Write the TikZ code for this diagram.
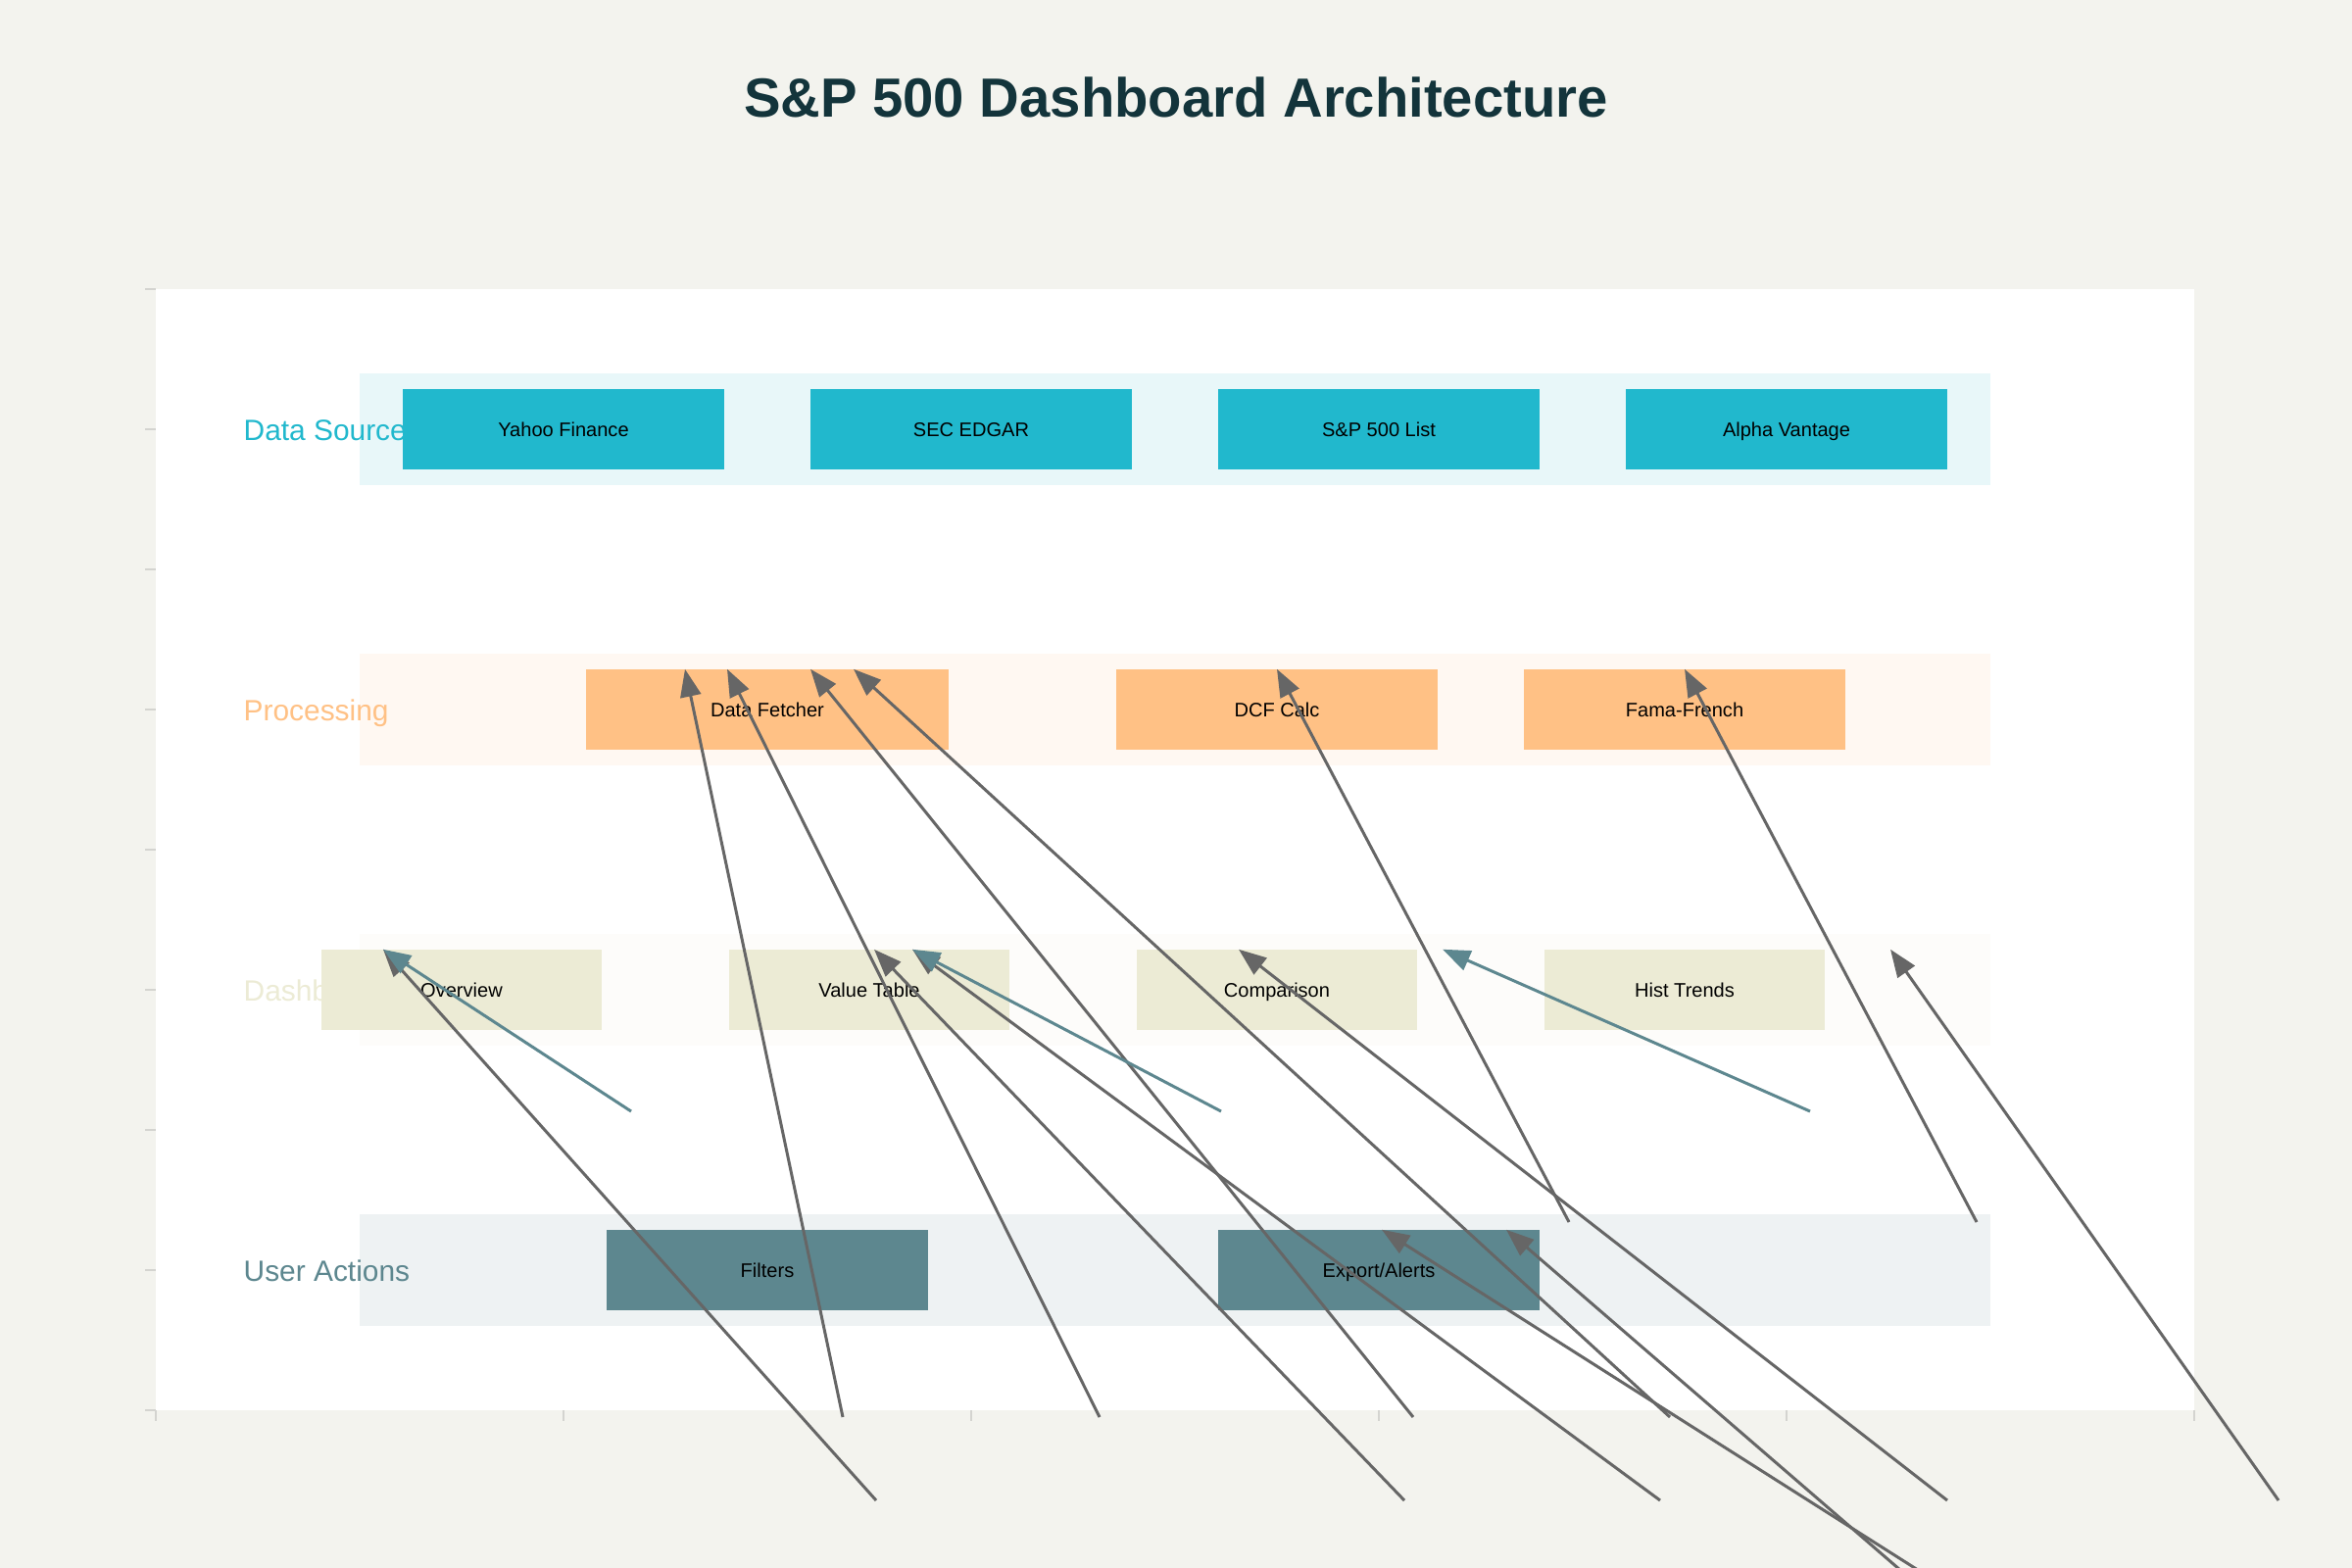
\documentclass[tikz,border=0pt]{standalone}
\usepackage{fontspec}
\setmainfont{Liberation Sans}
\usetikzlibrary{arrows.meta,calc}
\definecolor{paper}{HTML}{F3F3EE}
\definecolor{titlec}{HTML}{13343B}
\definecolor{srcc}{HTML}{21B8CD}
\definecolor{procc}{HTML}{FFC185}
\definecolor{dashc}{HTML}{ECEBD5}
\definecolor{userc}{HTML}{5D878F}
\definecolor{arrgray}{HTML}{666666}
\definecolor{tickc}{HTML}{D4D4D0}
\tikzset{
  band/.style={fill=#1, fill opacity=0.1, draw=none},
  lanelabel/.style={anchor=base west, inner sep=0pt, font=\fontsize{8.5pt}{10pt}\selectfont},
  boxbase/.style={draw=none, inner sep=0pt, minimum height=0.81cm, text height=4.1pt, text depth=0pt, font=\fontsize{5.7pt}{7pt}\selectfont, text=black},
  srcbox/.style={boxbase, fill=srcc, minimum width=3.27cm},
  procbox/.style={boxbase, fill=procc, minimum width=#1},
  dashbox/.style={boxbase, fill=dashc, minimum width=2.86cm},
  userbox/.style={boxbase, fill=userc, minimum width=3.27cm},
  grayarrow/.style={draw=arrgray, line width=0.85pt, -{Triangle[length=8pt,width=6pt]}},
  tealarrow/.style={draw=userc, line width=0.85pt, -{Triangle[length=8pt,width=6pt]}},
  tickmark/.style={draw=tickc, line width=0.45pt}
}
\begin{document}
\begin{tikzpicture}[x=0.01cm,y=-0.01cm]
\useasboundingbox (0,0) rectangle (2400,1600);
\clip (0,0) rectangle (2400,1600);
\fill[paper] (0,0) rectangle (2400,1600);
\fill[white] (159,295) rectangle (2239,1439);
% ticks
\foreach \k in {0,...,8} \draw[tickmark] (148,{295+143*\k}) -- (159,{295+143*\k});
\foreach \k in {0,...,5} \draw[tickmark] ({159+416*\k},1439) -- ({159+416*\k},1450);
% title
\node[text=titlec, font=\fontsize{16pt}{19pt}\selectfont\bfseries] (title) at (1200,99) {S\&P 500 Dashboard Architecture};
% bands
\fill[band=srcc] (367,381) rectangle (2031,495);
\fill[band=procc] (367,667) rectangle (2031,781);
\fill[band=dashc] (367,953) rectangle (2031,1067);
\fill[band=userc] (367,1239) rectangle (2031,1353);
% lane labels
\node[lanelabel, text=srcc] (lsrc) at (248,449) {Data Sources};
\node[lanelabel, text=procc] (lproc) at (248,735) {Processing};
\node[lanelabel, text=dashc] (ldash) at (248,1021) {Dashboard};
\node[lanelabel, text=userc] (luser) at (248,1307) {User Actions};
% boxes
\node[srcbox] (yahoo) at (575,438) {Yahoo Finance};
\node[srcbox] (sec) at (991,438) {SEC EDGAR};
\node[srcbox] (splist) at (1407,438) {S\&P 500 List};
\node[srcbox] (alpha) at (1823,438) {Alpha Vantage};
\node[procbox=3.70cm] (fetch) at (783,724) {Data Fetcher};
\node[procbox=3.27cm] (dcf) at (1303,724) {DCF Calc};
\node[procbox=3.27cm] (fama) at (1719,724) {Fama-French};
\node[dashbox] (overview) at (471,1010) {Overview};
\node[dashbox] (value) at (887,1010) {Value Table};
\node[dashbox] (compare) at (1303,1010) {Comparison};
\node[dashbox] (hist) at (1719,1010) {Hist Trends};
\node[userbox] (filters) at (783,1296) {Filters};
\node[userbox] (export) at (1407,1296) {Export/Alerts};
% tip coordinates
\coordinate (tf1) at ($(fetch.north)+(-84,0)$);
\coordinate (tf2) at ($(fetch.north)+(-41,0)$);
\coordinate (tf3) at ($(fetch.north)+(44,0)$);
\coordinate (tf4) at ($(fetch.north)+(88,0)$);
\coordinate (tdcf) at (dcf.north);
\coordinate (tfama) at (fama.north);
\coordinate (tov) at ($(overview.north)+(-80,0)$);
\coordinate (tv1) at ($(value.north)+(5,0)$);
\coordinate (tv2) at ($(value.north)+(44,0)$);
\coordinate (tcmp) at ($(compare.north)+(-39,0)$);
\coordinate (thr) at ($(hist.north)+(210,0)$);
\coordinate (thl) at ($(hist.north)+(-247,0)$);
\coordinate (te1) at ($(export.north)+(3,0)$);
\coordinate (te2) at ($(export.north)+(130,0)$);
% start coordinates
\coordinate (s1) at (860,1446);
\coordinate (s2) at (1122,1446);
\coordinate (s3) at (1442,1446);
\coordinate (s4) at (1704,1446);
\coordinate (s5) at (1601,1247);
\coordinate (s6) at (2017,1247);
\coordinate (s7) at (894,1531);
\coordinate (s8) at (1433,1531);
\coordinate (s9) at (1694,1531);
\coordinate (s10) at (1987,1531);
\coordinate (s11) at (2325,1531);
\coordinate (s12) at (1957,1602);
\coordinate (s13) at (1939,1602);
\coordinate (u1) at (644,1134);
\coordinate (u2) at (1246,1134);
\coordinate (u3) at (1847,1134);
% gray connectors
\draw[grayarrow] (s1) -- (tf1);
\draw[grayarrow] (s2) -- (tf2);
\draw[grayarrow] (s3) -- (tf3);
\draw[grayarrow] (s4) -- (tf4);
\draw[grayarrow] (s5) -- (tdcf);
\draw[grayarrow] (s6) -- (tfama);
\draw[grayarrow] (s7) -- (tov);
\draw[grayarrow] (s8) -- (tv1);
\draw[grayarrow] (s9) -- (tv2);
\draw[grayarrow] (s10) -- (tcmp);
\draw[grayarrow] (s11) -- (thr);
\draw[grayarrow] (s12) -- (te1);
\draw[grayarrow] (s13) -- (te2);
% teal connectors
\draw[tealarrow] (u1) -- (tov);
\draw[tealarrow] (u2) -- (tv2);
\draw[tealarrow] (u3) -- (thl);
\end{tikzpicture}
\end{document}
